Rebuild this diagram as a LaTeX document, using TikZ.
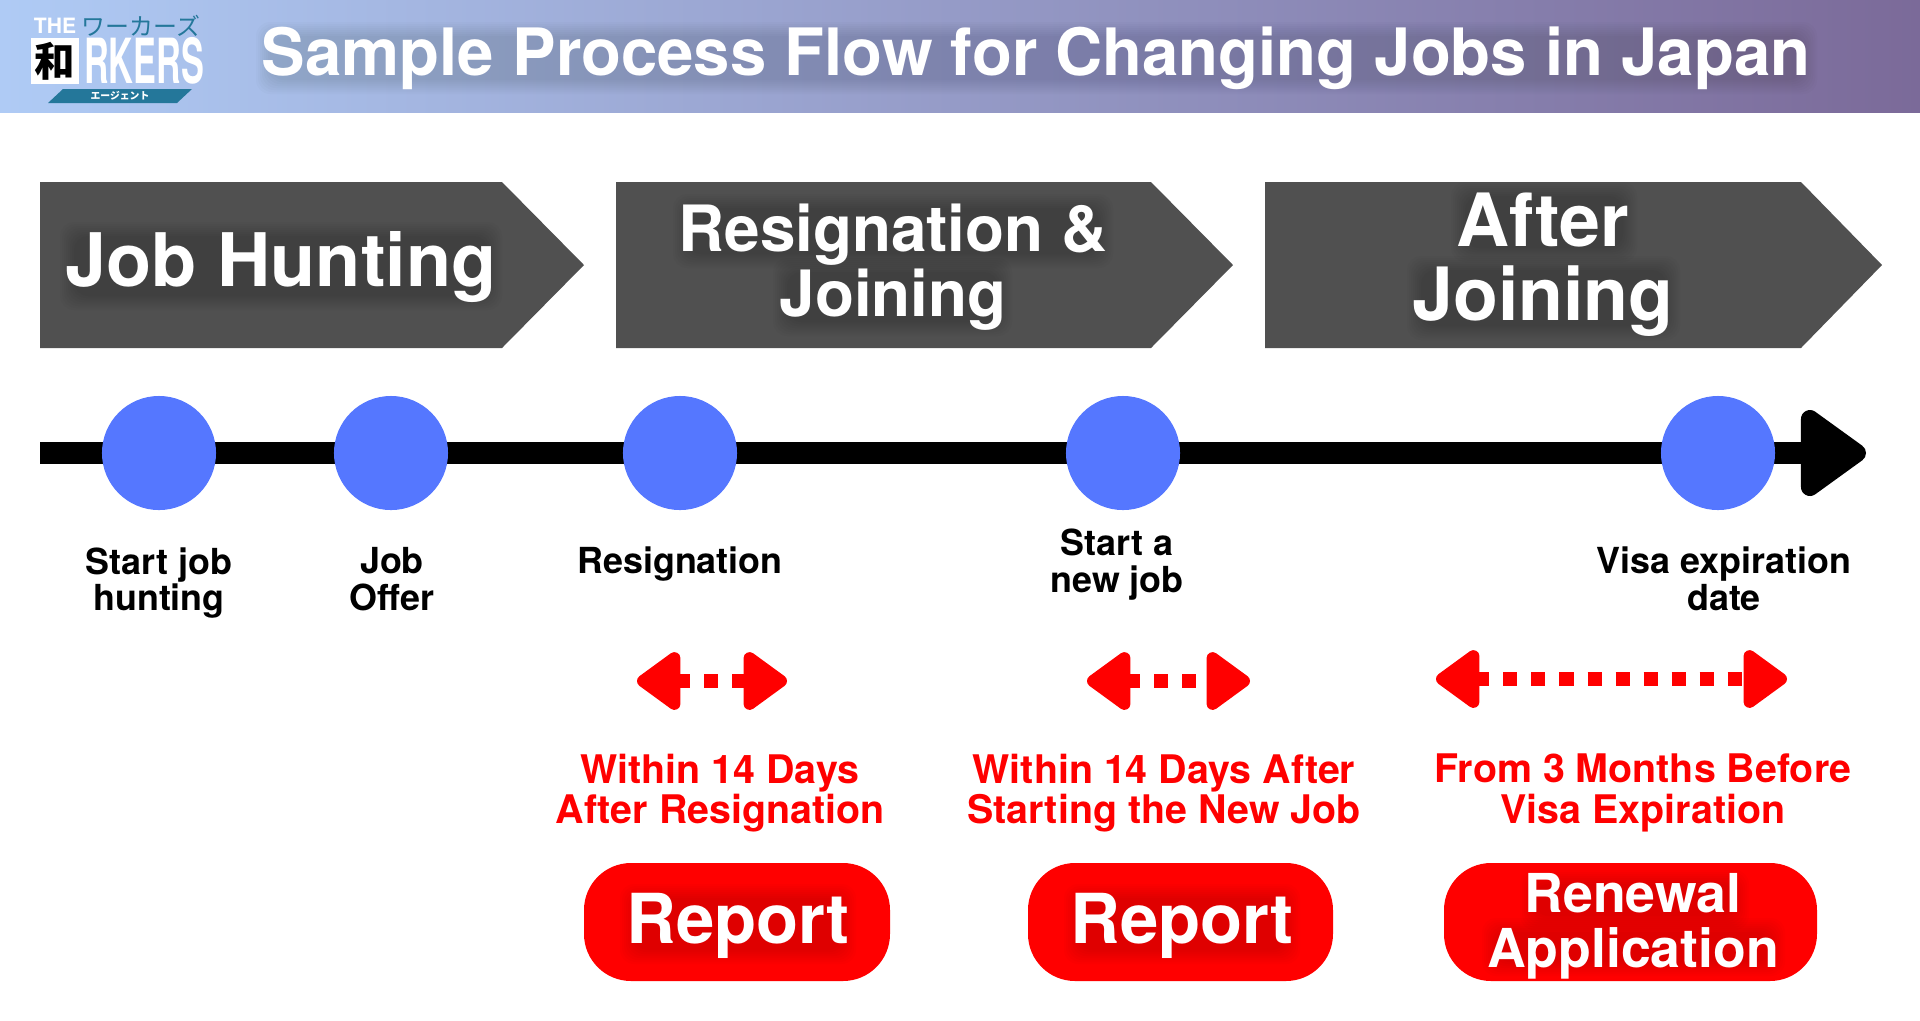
\documentclass[tikz,border=0pt]{standalone}
\usepackage{fontspec}
\setmainfont{TeX Gyre Heros}
\newfontfamily\jpfont{Noto Sans CJK JP}
\usetikzlibrary{arrows.meta}

\definecolor{tagdark}{HTML}{505050}
\definecolor{dotblue}{HTML}{5577FF}
\definecolor{logoteal}{HTML}{24779A}
\definecolor{headleft}{HTML}{AFCBF5}
\definecolor{headright}{HTML}{7B6A99}

\newcommand{\fs}[2]{\fontsize{#1pt}{#2pt}\selectfont\bfseries}

% soft dark patch behind a line of text
\newcommand{\softpatch}[4]{%
	\foreach \g in {0,2,...,14}
		\fill[black, fill opacity=.016, rounded corners=.14cm] ({#1-\g},{#2-\g}) rectangle ({#3+\g},{#4+\g});
}

\tikzset{
	plain/.style={inner sep=0pt, align=center},
	whitetext/.style={plain, text=white},
	tagshape/.style={fill=tagdark},
	tagsmall/.style={whitetext, font=\fs{18.15}{18.5}},
	tagbig/.style={whitetext, font=\fs{20.9}{21}},
	reportfont/.style={whitetext, font=\fs{19.6}{19.6}},
	dot/.style={circle, fill=dotblue, minimum size=1.14cm, inner sep=0pt},
	steplabel/.style={plain, font=\fs{10.2}{10.5}},
	redlabel/.style={plain, text=red, font=\fs{11.2}{11.5}},
	pill/.style={fill=red, rounded corners=.47cm},
	timeline/.style={line width=.22cm, -{Triangle[length=.72cm, width=.98cm, round, line width=.18cm]}},
	span/.style={red, line width=.14cm, dash pattern=on .14cm off .14cm, dash phase=.01cm,
		{Triangle[length=.48cm, width=.66cm, round, line width=.14cm]}-{Triangle[length=.48cm, width=.66cm, round, line width=.14cm]}}
}

\begin{document}
\begin{tikzpicture}[x=.01cm, y=-.01cm]

	\useasboundingbox (0,0) rectangle (1920,1020);

	% header
	\shade[left color=headleft, right color=headright] (0,0) rectangle (1920,112);

	\softpatch{270}{36}{1803}{80}
	\node[whitetext, font=\fs{18.57}{18.57}] (title) at (1036,58) {Sample Process Flow for Changing Jobs in Japan};

	% logo
	\node[plain, text=white, font=\fs{6}{6}] (logothe) at (55,26) {THE};
	\node[plain, text=logoteal, font=\jpfont\fontsize{6.8pt}{6.8pt}\selectfont] (logokana) at (141,26) {ワーカーズ};
	\fill[white] (31,38) rectangle (79,84);
	\node[plain, font=\jpfont\fs{11.5}{11.5}] (logowa) at (55,61) {和};
	\node[plain, text=white, font=\fs{17.7}{17.7}] (logorkers) at (144,61) {\scalebox{.55}[1]{RKERS}};
	\fill[logoteal] (63,89) -- (192,89) -- (177,103) -- (48,103) -- cycle;
	\node[plain, text=white, font=\jpfont\fs{2.8}{2.8}] (logoagent) at (120,96) {エージェント};

	% phases
	\fill[tagshape] (40,182) -- (502,182) -- (584,265) -- (502,348) -- (40,348) -- cycle;
	\fill[tagshape] (616,182) -- (1151,182) -- (1233,265) -- (1151,348) -- (616,348) -- cycle;
	\fill[tagshape] (1265,182) -- (1801,182) -- (1882,265) -- (1801,348) -- (1265,348) -- cycle;

	\softpatch{74}{236}{488}{296}
	\softpatch{687}{208}{1099}{254}
	\softpatch{787}{272}{998}{322}
	\softpatch{1465}{196}{1623}{248}
	\softpatch{1421}{270}{1666}{326}

	\node[whitetext, font=\fs{21}{21}] (jobhunting) at (281,267) {Job Hunting};
	\node[tagsmall] (resigning) at (893,267) {Resignation \&\\Joining};
	\node[tagbig] (afterjoin) at (1543,265) {After\\Joining};

	% time line
	\coordinate (linestart) at (40,453);
	\coordinate (lineend) at (1866,453);
	\draw[timeline] (linestart) -- (lineend);

	\node[dot] (dotstart) at (159,453) {};
	\node[dot] (dotoffer) at (391,453) {};
	\node[dot] (dotresign) at (680,453) {};
	\node[dot] (dotnew) at (1123,453) {};
	\node[dot] (dotvisa) at (1718,453) {};

	\node[steplabel] (labstart) at (159,583) {Start job\\hunting};
	\node[steplabel] (laboffer) at (392,579) {Job\\Offer};
	\node[steplabel] (labresign) at (680,564) {Resignation};
	\node[steplabel] (labnew) at (1117,565) {Start a\\new job};
	\node[steplabel] (labvisa) at (1724,579) {Visa expiration\\date};

	% spans
	\coordinate (spanaleft) at (637,681);
	\coordinate (spanaright) at (787,681);
	\coordinate (spanbleft) at (1087,681);
	\coordinate (spanbright) at (1250,681);
	\coordinate (spancleft) at (1436,679);
	\coordinate (spancright) at (1787,679);
	\draw[span] (spanaleft) -- (spanaright);
	\draw[span] (spanbleft) -- (spanbright);
	\draw[span] (spancleft) -- (spancright);

	\node[redlabel] (noteresign) at (720,793) {Within 14 Days\\After Resignation};
	\node[redlabel] (notenew) at (1164,793) {Within 14 Days After\\Starting the New Job};
	\node[redlabel] (notevisa) at (1643,793) {From 3 Months Before\\Visa Expiration};

	% buttons
	\fill[pill] (584,863) rectangle (890,981);
	\fill[pill] (1028,863) rectangle (1333,981);
	\fill[pill] (1444,863) rectangle (1817,981);

	\softpatch{634}{898}{842}{950}
	\softpatch{1078}{898}{1286}{950}
	\softpatch{1534}{884}{1735}{916}
	\softpatch{1496}{932}{1771}{962}

	\node[reportfont] (reporta) at (738,926) {Report};
	\node[reportfont] (reportb) at (1182,926) {Report};
	\node[whitetext, font=\fs{15.25}{15.6}] (renewal) at (1633,926) {Renewal\\Application};

\end{tikzpicture}
\end{document}
